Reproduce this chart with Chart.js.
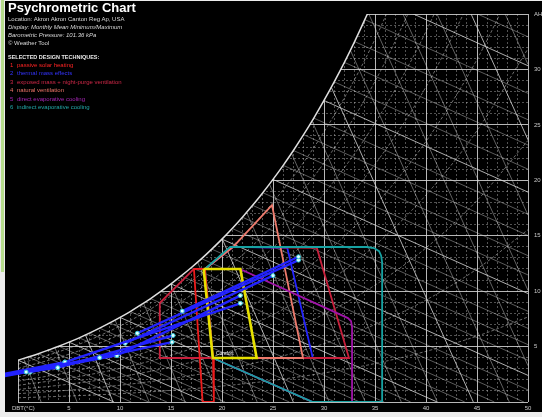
<!DOCTYPE html>
<html>
<head>
<meta charset="utf-8">
<script src="https://cdn.jsdelivr.net/npm/chart.js@4.4.0/dist/chart.umd.min.js"></script>
<style>
body { margin:0; width:542px; height:417px; overflow:hidden; background:#ececec; position:relative; font-family:"Liberation Sans", Arial, sans-serif; }
#edge { position:absolute; left:1px; top:0; width:3px; height:272px; background:#b6dc8c; }
#panel { position:absolute; left:5px; top:1px; width:537px; height:411px; background:#000; }
#chart { position:absolute; left:0; top:1px; }
#info { position:absolute; left:3px; top:0; color:#d8d8d8; font-size:6px; line-height:8px; white-space:nowrap; }
#info .title { color:#fff; font-weight:bold; font-size:13px; line-height:14px; }
#info .it { font-style:italic; }
#info .sel { margin-top:6px; font-weight:bold; font-size:5.5px; line-height:8px; color:#e8e8e8; }
#info .item { line-height:8.4px; }
#info .n { display:inline-block; width:7px; padding-left:2px; }
</style>
</head>
<body>
<div id="edge"></div>
<div id="panel">
  <canvas id="chart" width="537" height="410"></canvas>
  <div id="info">
    <div class="title">Psychrometric Chart</div>
    <div>Location: Akron Akron Canton Reg Ap, USA</div>
    <div class="it">Display: Monthly Mean Minimum/Maximum</div>
    <div class="it">Barometric Pressure: 101.36 kPa</div>
    <div>© Weather Tool</div>
    <div class="sel">SELECTED DESIGN TECHNIQUES:</div>
    <div class="item" style="color:#ff2424"><span class="n">1</span>passive solar heating</div>
    <div class="item" style="color:#3434ff"><span class="n">2</span>thermal mass effects</div>
    <div class="item" style="color:#d02848"><span class="n">3</span>exposed mass + night-purge ventilation</div>
    <div class="item" style="color:#ec7468"><span class="n">4</span>natural ventilation</div>
    <div class="item" style="color:#a424b4"><span class="n">5</span>direct evaporative cooling</div>
    <div class="item" style="color:#22a8a8"><span class="n">6</span>indirect evaporative cooling</div>
  </div>
</div>
<script>
// saturation humidity ratio (g/kg) at DBT 0,1,2 ... 36 C
var satW = [3.77,4.06,4.36,4.69,5.03,5.40,5.79,6.21,6.66,7.13,7.63,8.16,8.73,9.33,9.97,10.65,11.37,12.13,12.93,13.79,
            14.69,15.65,16.67,17.74,18.88,20.08,21.35,22.69,24.11,25.61,27.20,28.88,30.64,32.51,34.49,36.57,38.77];

// relative humidity curves, sampled at these temperatures
var rhTemps = [0,5,10,15,20,25,30,35,40,45,50];
var rhCurves = [
  [0.38,0.54,0.75,1.05,1.44,1.95,2.62,3.47,4.57,5.94,7.67],
  [0.75,1.07,1.51,2.10,2.88,3.92,5.26,6.99,9.20,12.00,15.54],
  [1.13,1.61,2.27,3.16,4.34,5.89,7.92,10.54,13.90,18.18,23.60],
  [1.50,2.15,3.03,4.22,5.80,7.88,10.60,14.13,18.67,24.48,31.87],
  [1.88,2.69,3.79,5.28,7.26,9.88,13.31,17.76,23.51,30.90,40.36],
  [2.26,3.23,4.56,6.34,8.73,11.89,16.04,21.44,28.43,37.45],
  [2.64,3.77,5.32,7.41,10.21,13.92,18.79,25.16,33.43,44.14],
  [3.02,4.31,6.09,8.49,11.70,15.96,21.57,28.92,38.50],
  [3.40,4.86,6.86,9.57,13.19,18.01,24.37,32.72,43.65]
];

// wet bulb lines: start on saturation at Twb = index, end points below
var wbEnds = [[9.4,0],[11.1,0],[12.8,0],[14.6,0],[16.5,0],[18.4,0],[20.3,0],[22.3,0],[24.4,0],[26.6,0],
              [28.8,0],[31.1,0],[33.5,0],[35.9,0],[38.5,0],[41.1,0],[43.8,0],[46.7,0],[49.6,0],[50,1.09],
              [50,2.40],[50,3.76],[50,5.17],[50,6.64],[50,8.18],[50,9.78],[50,11.46],[50,13.20],[50,15.02],[50,16.93],
              [50,18.93],[50,21.00],[50,23.18],[50,25.46],[50,27.84],[50,30.33],[50,32.94]];

// specific volume lines 0.78 ... 0.96 m3/kg
var volLines = [
  [[2.27,0],[0.54,3.93]], [[5.80,0],[3.62,4.90]], [[9.33,0],[6.60,6.07]], [[12.86,0],[9.52,7.38]],
  [[16.39,0],[12.31,8.91]], [[19.92,0],[15.01,10.63]], [[23.45,0],[17.61,12.61]], [[26.99,0],[20.02,14.72]],
  [[30.52,0],[22.42,17.10]], [[34.05,0],[24.66,19.64]], [[37.58,0],[26.83,22.40]], [[41.11,0],[28.83,25.33]],
  [[44.64,0],[30.71,28.40]], [[48.17,0],[32.59,31.72]], [[50,3.27],[34.39,35]], [[50,10.07],[37.74,35]],
  [[50,16.86],[41.08,35]], [[50,23.65],[44.42,35]], [[50,30.45],[47.76,35]]
];

// design zones (DBT C, g/kg)
var comfortZone = [[18.2,12.0],[21.8,12.0],[23.4,3.97],[19.1,3.97],[18.2,12.0]];
var solarZone = [[17.25,12.0],[18.33,12.0],[19.12,3.97],[19.2,0],[18.1,0],[17.25,12.0]];
var massZone = [[18.33,12.0],[21.1,14.0],[26.4,13.9],[28.9,3.97],[19.12,3.97]];
var nightPurgeZone = [[13.9,8.93],[17.25,12.0],[18.33,12.0],[21.1,14.0],[29.3,13.9],[32.45,3.97],[13.9,3.97],[13.9,8.93]];
var ventZone = [[18.33,12.0],[21.1,14.0],[24.9,17.76],[27.94,3.97],[19.12,3.97]];
var directEvapZone = [[21.76,12.0],[32.35,7.57],[32.65,7.3],[32.75,6.76],[32.75,0],[28.9,0],[19.1,3.97]];
var indirectEvapZone = [[18.33,12.0],[20.8,14.0],[34.2,13.98],[34.9,13.89],[35.4,13.6],[35.6,13.2],[35.7,12.6],
                        [35.7,0],[28.9,0],[19.1,3.97],[18.33,12.0]];

// monthly mean minimum -> maximum
var months = ['Jan','Feb','Mar','Apr','May','Jun','Jul','Aug','Sep','Oct','Nov','Dec'];
var monthMinT = [-8.0,-7.0,-3.0,1.2,4.6,10.5,16.1,11.7,9.7,3.9,-1.5,-5.0];
var monthMinW = [1.6,1.7,2.2,2.7,3.6,5.3,8.2,6.2,4.2,3.1,2.3,1.9];
var monthMaxT = [0.8,3.9,8.0,15.1,21.8,25.0,27.5,27.5,21.8,15.2,9.7,4.6];
var monthMaxW = [2.7,3.1,4.0,5.4,8.9,11.4,13.1,12.8,9.6,6.0,4.2,3.6];

var FONT = '"Liberation Sans", Arial, sans-serif';

function pts(list) {
    return list.map(function (p) { return {x: p[0], y: p[1]}; });
}
function grey(a) {
    return 'rgba(215,215,215,' + a + ')';
}

var datasets = [];

datasets.push({
    label: 'saturation',
    data: satW.map(function (w, t) { return {x: t, y: w}; }),
    borderColor: 'rgba(235,235,235,0.95)', borderWidth: 1.5,
    fill: 'end', backgroundColor: '#000',
    pointRadius: 0, cubicInterpolationMode: 'monotone', order: 100
});

rhCurves.forEach(function (curve, i) {
    datasets.push({
        label: 'rh' + (i + 1) * 10,
        data: curve.map(function (w, j) { return {x: rhTemps[j], y: w}; }),
        borderColor: grey(0.5), borderWidth: 1, borderDash: [3, 2],
        pointRadius: 0, cubicInterpolationMode: 'monotone', order: 60
    });
});

wbEnds.forEach(function (end, t) {
    datasets.push({
        label: 'wb' + t,
        data: [{x: t, y: satW[t]}, {x: end[0], y: end[1]}],
        borderColor: t % 5 === 0 ? grey(0.8) : grey(0.42), borderWidth: 1,
        pointRadius: 0, order: 60
    });
});

volLines.forEach(function (line, i) {
    datasets.push({
        label: 'vol' + i,
        data: pts(line),
        borderColor: i % 5 === 2 ? grey(0.8) : grey(0.45), borderWidth: 1,
        pointRadius: 0, order: 60
    });
});

function zone(name, list, color, width, order) {
    datasets.push({
        label: name, data: pts(list), borderColor: color, borderWidth: width,
        pointRadius: 0, fill: false, order: order
    });
}
zone('thermal mass effects', massZone, '#2424ff', 1.8, 20);
zone('exposed mass + night-purge ventilation', nightPurgeZone, '#c8203c', 1.8, 19);
zone('natural ventilation', ventZone, '#ee7a6c', 1.8, 18);
zone('direct evaporative cooling', directEvapZone, '#a014a8', 1.8, 17);
zone('indirect evaporative cooling', indirectEvapZone, '#16a2a2', 1.8, 16);
zone('passive solar heating', solarZone, '#ee1c1c', 1.8, 15);
zone('comfort', comfortZone, '#e6e000', 2.6, 14);

months.forEach(function (m, i) {
    datasets.push({
        label: m,
        data: [{x: monthMinT[i], y: monthMinW[i]}, {x: monthMaxT[i], y: monthMaxW[i]}],
        borderColor: '#2222ff', borderWidth: 2.4,
        pointRadius: 2, pointBackgroundColor: '#e4ffff', pointBorderColor: '#2cc4d4', pointBorderWidth: 1,
        clip: false, order: 1
    });
});

var textPlugin = {
    id: 'chartText',
    afterDatasetsDraw: function (chart) {
        var ctx = chart.ctx;
        var xs = chart.scales.x, ys = chart.scales.y;
        ctx.save();
        ctx.fillStyle = '#f0f0f0';
        ctx.font = '5px ' + FONT;
        ctx.textBaseline = 'middle';
        ctx.textAlign = 'left';
        ctx.fillText('Comfort', xs.getPixelForValue(19.4), ys.getPixelForValue(4.4));
        ctx.fillStyle = '#c8c8c8';
        ctx.font = '6px ' + FONT;
        ctx.fillText('DBT(°C)', xs.getPixelForValue(0) - 6, ys.getPixelForValue(0) + 6);
        ctx.restore();
    }
};

function gridColor(ctx) {
    if (!ctx.tick) return grey(0.4);
    return ctx.tick.value % 5 === 0 ? grey(0.85) : grey(0.38);
}
function gridDash(ctx) {
    if (!ctx.tick) return [];
    return ctx.tick.value % 5 === 0 ? [] : [2, 2];
}

new Chart(document.getElementById('chart'), {
    type: 'line',
    data: {datasets: datasets},
    options: {
        responsive: false,
        devicePixelRatio: 1,
        animation: false,
        events: [],
        layout: {padding: {left: 13, top: 12, right: 0, bottom: 0}},
        plugins: {legend: {display: false}, tooltip: {enabled: false}},
        scales: {
            x: {
                type: 'linear', min: 0, max: 50,
                afterFit: function (scale) { scale.height = 10; },
                grid: {color: gridColor, lineWidth: 1, drawTicks: false},
                border: {display: false, dash: gridDash},
                ticks: {
                    stepSize: 1, autoSkip: false, maxRotation: 0, padding: 3,
                    color: '#c8c8c8', font: {size: 6, family: FONT},
                    callback: function (v) { return (v % 5 === 0 && v > 0) ? String(v) : ''; }
                }
            },
            y: {
                type: 'linear', position: 'right', min: 0, max: 35,
                afterFit: function (scale) { scale.width = 14; },
                grid: {color: gridColor, lineWidth: 1, drawTicks: false},
                border: {display: false, dash: gridDash},
                ticks: {
                    stepSize: 1, autoSkip: false, padding: 6,
                    color: '#c8c8c8', font: {size: 6, family: FONT},
                    callback: function (v) {
                        if (v === 35) return 'AH';
                        return (v % 5 === 0 && v > 0) ? String(v) : '';
                    }
                }
            }
        }
    },
    plugins: [textPlugin]
});
</script>
</body>
</html>
